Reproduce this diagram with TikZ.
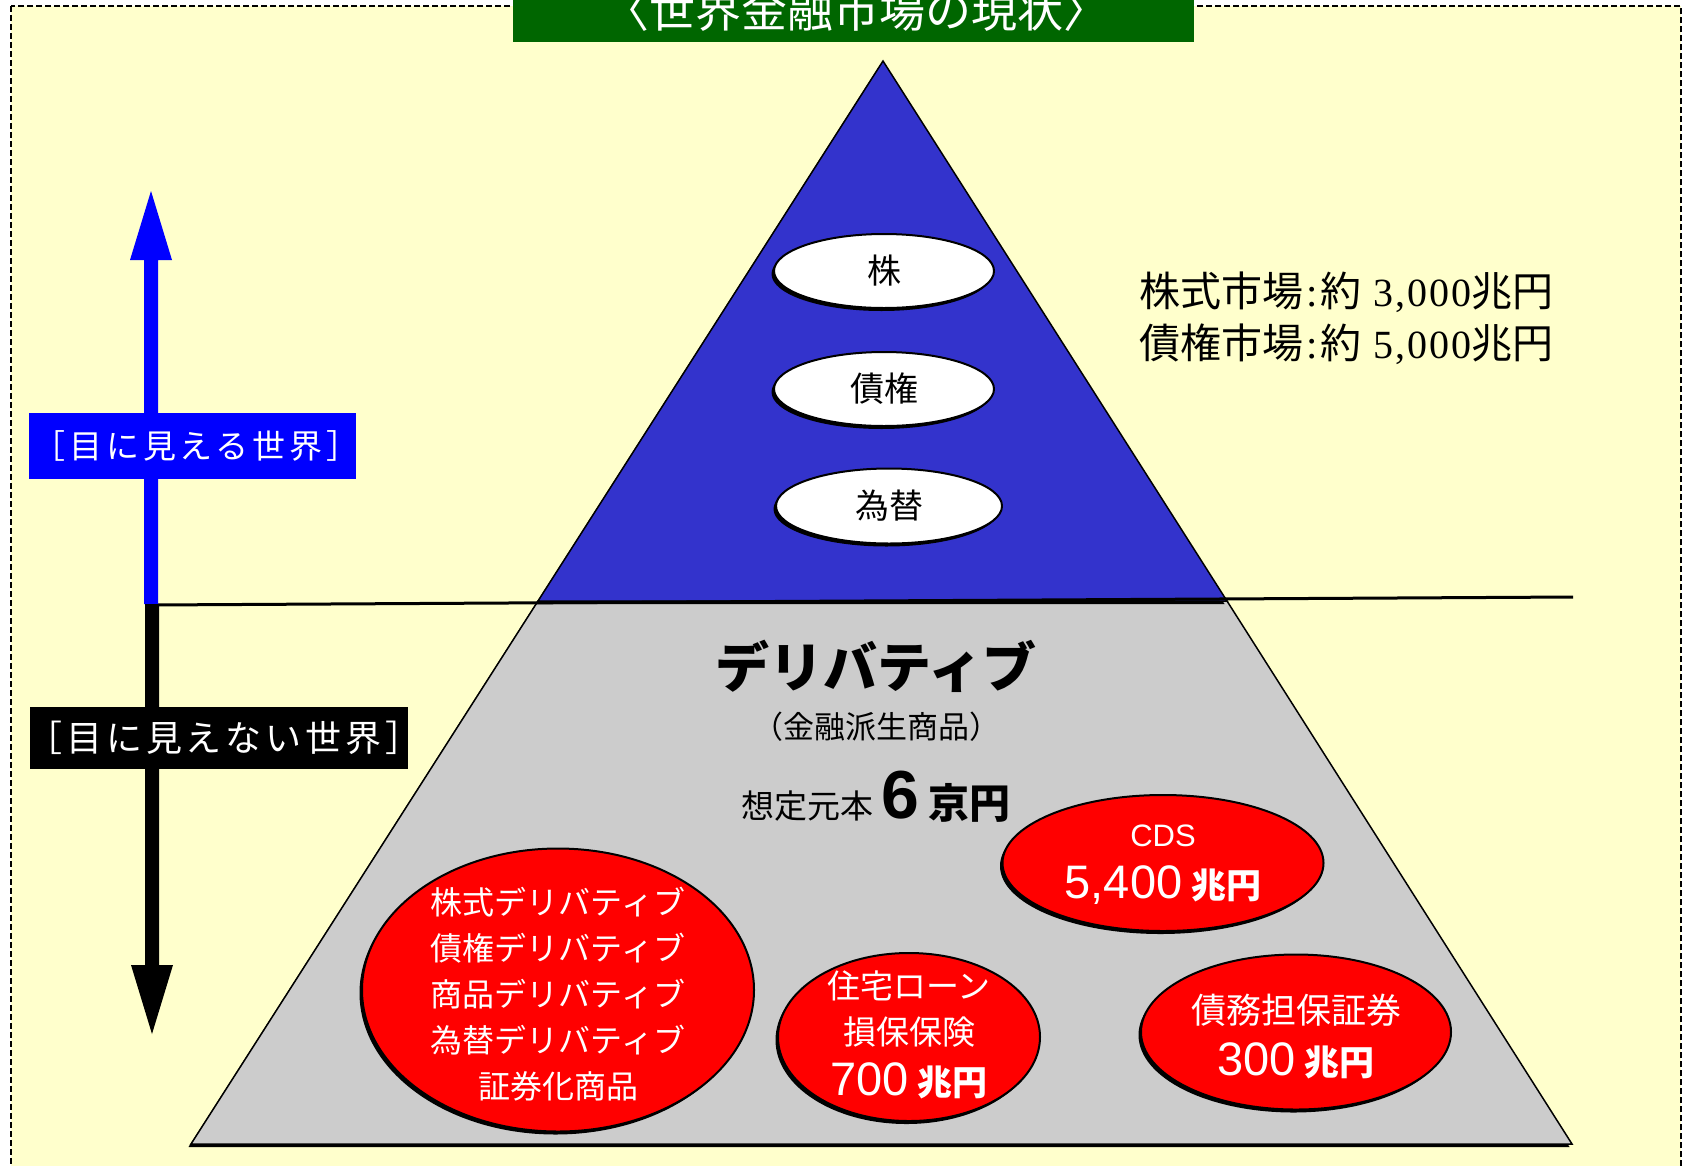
\documentclass[tikz,border=0pt]{standalone}
\usepackage{fontspec}
\setmainfont{Noto Sans CJK JP}
\newfontfamily\jpwa{Noto Sans CJK JP}[LetterSpace=12]
\newfontfamily\jpwb{Noto Sans CJK JP}[LetterSpace=11]
\newfontfamily\lsans{Liberation Sans}
\newfontfamily\lserif{Liberation Serif}
\newfontfamily\lserifw{Liberation Serif}[LetterSpace=5]
\usetikzlibrary{shapes.geometric,shadows}
\newcommand\fz[2]{\fontsize{#1}{#2}\selectfont}
\definecolor{bgyellow}{HTML}{FFFFCC}
\definecolor{triblue}{HTML}{3333CC}
\definecolor{trigray}{HTML}{CCCCCC}
\definecolor{ovred}{HTML}{FF0000}
\definecolor{titlegreen}{HTML}{006600}
\definecolor{purblue}{HTML}{0000FF}
\tikzset{
  shad/.style={drop shadow={shadow xshift=-2.5pt,shadow yshift=-3pt,fill=black,opacity=1}},
  wov/.style={ellipse, draw=black, line width=2pt, fill=white, inner sep=0pt, shad},
  rov/.style={ellipse, draw=black, line width=2pt, fill=ovred, inner sep=0pt, shad},
  wtxt/.style={text=white, inner sep=0pt},
  lbl/.style={inner sep=0pt, text=white},
}
\newcommand\mcolon{\hspace{3pt}{\lserif :}\hspace{3pt}}
\begin{document}
\begin{tikzpicture}[x=1pt,y=-1pt]
\useasboundingbox (0,0) rectangle (1685,1165);
\fill[white] (0,0) rectangle (1685,1165);
\draw[fill=bgyellow, line width=1.3pt, dash pattern=on 6pt off 3pt] (11,6) rectangle (1681,1200);

% pyramid
\coordinate (apex) at (883,61);
\coordinate (ml) at (538,601);
\coordinate (mr) at (1227,601);
\coordinate (bl) at (191,1144);
\coordinate (br) at (1572,1144);
\filldraw[fill=trigray, draw=black, line width=1.5pt, shad] (ml) -- (mr) -- (br) -- (bl) -- cycle;
\filldraw[fill=triblue, draw=black, line width=1.5pt, shad] (apex) -- (mr) -- (ml) -- cycle;

% divider
\coordinate (hl) at (151,605);
\coordinate (hr) at (1573,597);
\draw[line width=3pt] (hl) -- (hr);

% arrows
\fill[purblue] (144,604) -- (144,260) -- (130,260) -- (151,191) -- (172,260) -- (158,260) -- (158,604) -- cycle;
\fill[black] (145,604) -- (145,965) -- (131,965) -- (152,1034) -- (173,965) -- (159,965) -- (159,604) -- cycle;

% side labels
\node[fill=purblue, minimum width=327, minimum height=66, inner sep=0pt] (visbox) at (192,446) {};
\node[lbl, font=\jpwa\fz{33}{33}] (vis) at (196,446) {［目に見える世界］};
\node[fill=black, minimum width=378, minimum height=62, inner sep=0pt] (invbox) at (219,738) {};
\node[lbl, font=\jpwb\fz{36}{36}] (inv) at (224,738) {［目に見えない世界］};

% title
\node[fill=titlegreen, minimum width=681, minimum height=50, inner sep=0pt] (titlebox) at (853.5,17) {};
\node[lbl, font=\fz{46}{46}] (title) at (856,10) {〈世界金融市場の現状〉};

% white ovals
\node[wov, minimum width=220, minimum height=74] (kabu) at (884,271) {};
\node[font=\fz{34}{34}, inner sep=0pt] (kabut) at (kabu.center) {株};
\node[wov, minimum width=220, minimum height=74] (saiken) at (884,389) {};
\node[font=\fz{34}{34}, inner sep=0pt] (saikent) at (saiken.center) {債権};
\node[wov, minimum width=226, minimum height=75] (kawase) at (889,506) {};
\node[font=\fz{34}{34}, inner sep=0pt] (kawaset) at (kawase.center) {為替};

% market text
\node[anchor=west, align=left, font=\fz{41}{52}, inner sep=0pt] (market) at (1139,318)
  {株式市場\mcolon 約{\lserifw\fz{40}{52} 3,000}兆円\\債権市場\mcolon 約{\lserifw\fz{40}{52} 5,000}兆円};

% derivative texts
\node[font=\bfseries\fz{54}{54}, inner sep=0pt] (deriv) at (876,666) {デリバティブ};
\node[font=\fz{31}{31}, inner sep=0pt] (kinyu) at (876,727) {（金融派生商品）};
\node[anchor=base, inner sep=0pt] (notional) at (876,818)
  {{\fz{33}{33}想定元本}\hspace{8pt}{\lsans\bfseries\fz{68}{68}6}\hspace{10pt}{\bfseries\fz{41}{41}京円}};

% red ovals
\node[rov, minimum width=392, minimum height=283] (big) at (558,990) {};
\node[wtxt, align=center, font=\fz{32}{46}] (bigt) at (558,994)
  {株式デリバティブ\\債権デリバティブ\\商品デリバティブ\\為替デリバティブ\\証券化商品};

\node[rov, minimum width=321, minimum height=136] (cds) at (1163,863) {};
\node[wtxt, font=\lsans\fz{31}{31}] (cdsa) at (1163,836) {CDS};
\node[wtxt] (cdsb) at (1163,885) {{\lsans\fz{47}{47}5,400}\hspace{9pt}{\bfseries\fz{35}{35}兆円}};

\node[rov, minimum width=262, minimum height=168] (jutaku) at (909,1037) {};
\node[wtxt, font=\fz{33}{33}] (jutakua) at (909,986) {住宅ローン};
\node[wtxt, font=\fz{33}{33}] (jutakub) at (909,1032) {損保保険};
\node[wtxt] (jutakuc) at (909,1081) {{\lsans\fz{47}{47}700}\hspace{9pt}{\bfseries\fz{35}{35}兆円}};

\node[rov, minimum width=310, minimum height=155] (saimu) at (1296,1032) {};
\node[wtxt, font=\fz{35}{35}] (saimua) at (1296,1010) {債務担保証券};
\node[wtxt] (saimub) at (1296,1061) {{\lsans\fz{47}{47}300}\hspace{9pt}{\bfseries\fz{35}{35}兆円}};
\end{tikzpicture}
\end{document}
